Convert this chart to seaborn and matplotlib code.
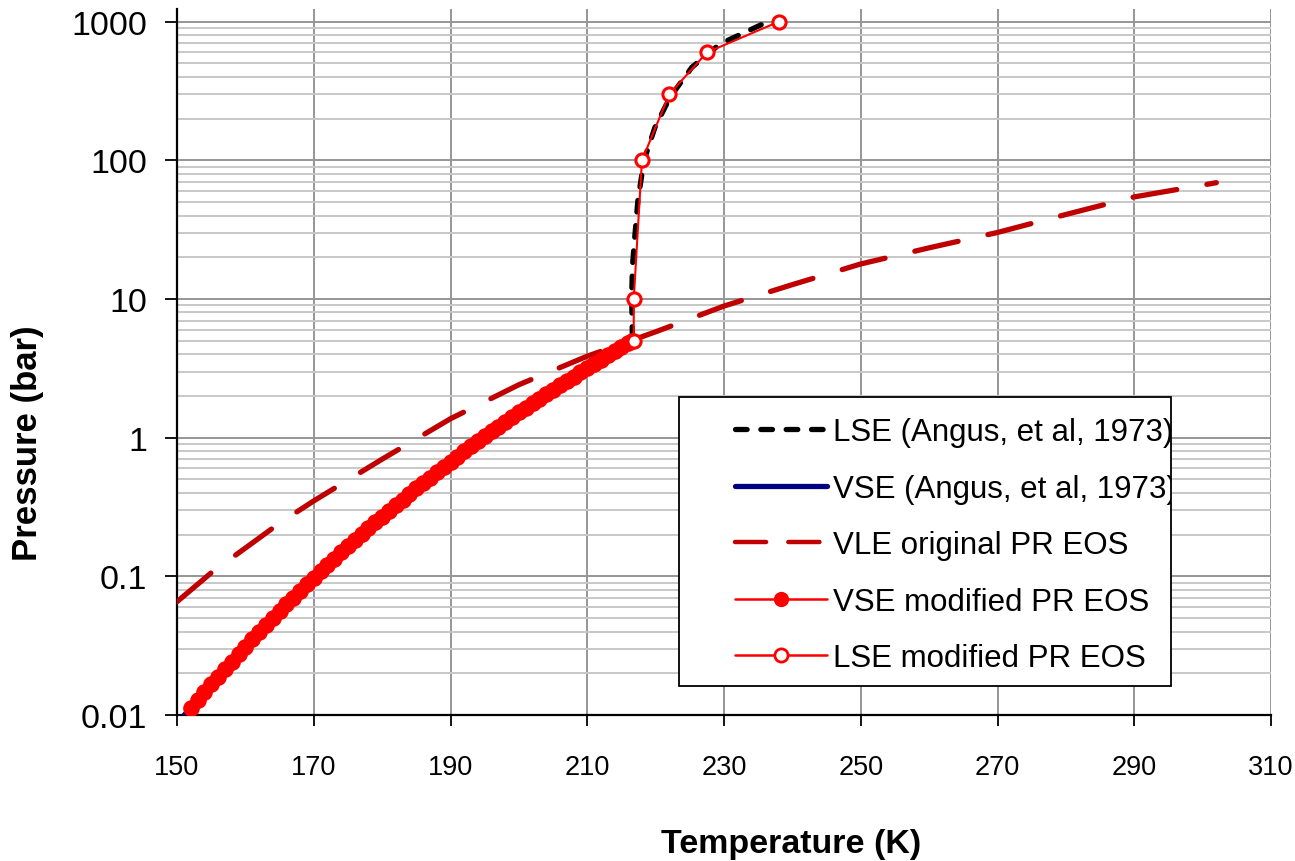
import matplotlib
matplotlib.use("Agg")
import matplotlib.pyplot as plt
import seaborn as sns
import pandas as pd
from matplotlib.lines import Line2D
from matplotlib.patches import Rectangle
from matplotlib.ticker import LogLocator, NullFormatter

# ---------------- data ----------------
lse_angus_T = [216.6, 216.5, 216.6, 217.0, 217.4, 218.3, 219.9, 222.1, 225.3, 229.4, 236.2]
lse_angus_P = [5.2, 10.0, 17.0, 30.0, 51.0, 100.0, 173.0, 285.0, 469.0, 690.0, 990.0]

vse_angus_T = [150.8, 155, 160, 165, 170, 175, 180, 185, 190, 195, 200, 205, 210, 216.6]
vse_angus_P = [0.0098, 0.0166, 0.0311, 0.0561, 0.0977, 0.165, 0.270, 0.431, 0.670,
               1.02, 1.52, 2.22, 3.19, 5.0]

vle_pr_T = [150, 155, 160, 165, 170, 180, 190, 200, 210, 220, 230, 240, 250, 260, 270,
            280, 290, 302]
vle_pr_P = [0.0656, 0.106, 0.160, 0.242, 0.350, 0.70, 1.37, 2.41, 3.87, 5.8, 8.9, 12.7,
            17.9, 23.4, 30.2, 40.7, 54.5, 69.0]

vse_mod_T = [152, 153, 154, 155, 156, 157, 158, 159, 160, 161, 162, 163, 164, 165,
             166, 167, 168, 169, 170, 171, 172, 173, 174, 175, 176, 177, 178, 179,
             180, 181, 182, 183, 184, 185, 186, 187, 188, 189, 190, 191, 192, 193,
             194, 195, 196, 197, 198, 199, 200, 201, 202, 203, 204, 205, 206, 207,
             208, 209, 210, 211, 212, 213, 214, 215, 216, 216.6]
vse_mod_P = [0.0112, 0.0128, 0.0146, 0.0166, 0.0189, 0.0215, 0.0243, 0.0276, 0.0311,
             0.0351, 0.0396, 0.0445, 0.0500, 0.0561, 0.0629, 0.0703, 0.0786, 0.0877,
             0.0977, 0.109, 0.121, 0.134, 0.149, 0.165, 0.182, 0.201, 0.222, 0.245,
             0.270, 0.297, 0.326, 0.358, 0.393, 0.431, 0.471, 0.515, 0.563, 0.614,
             0.670, 0.730, 0.795, 0.864, 0.939, 1.02, 1.11, 1.20, 1.30, 1.41, 1.52,
             1.64, 1.77, 1.91, 2.06, 2.22, 2.39, 2.57, 2.76, 2.97, 3.19, 3.42, 3.66,
             3.93, 4.20, 4.49, 4.81, 5.0]

lse_mod_T = [216.8, 216.8, 218.0, 222.0, 227.5, 238.0]
lse_mod_P = [5.0, 10.0, 100.0, 300.0, 600.0, 1000.0]

legend_labels = ["LSE (Angus, et al, 1973)", "VSE (Angus, et al, 1973)",
                 "VLE original PR EOS", "VSE modified PR EOS", "LSE modified PR EOS"]

x_ticks = [150, 170, 190, 210, 230, 250, 270, 290, 310]
y_ticks = [0.01, 0.1, 1, 10, 100, 1000]
y_tick_labels = ["0.01", "0.1", "1", "10", "100", "1000"]
x_label = "Temperature (K)"
y_label = "Pressure (bar)"

# ---------------- styling ----------------
sns.set_theme(style="white")
plt.rcParams["font.family"] = ["Liberation Sans", "DejaVu Sans"]
for k in ["text.color", "axes.labelcolor", "xtick.color", "ytick.color"]:
    plt.rcParams[k] = "black"

W, H = 1295, 862
fig = plt.figure(figsize=(W / 100, H / 100), dpi=100)
L, R, B, T = 177, 1271, 716, 10
ax = fig.add_axes([L / W, (H - B) / H, (R - L) / W, (B - T) / H])

def ax_xy(px, py):
    return ((px - L) / (R - L), (B - py) / (B - T))

BLACK = "#000000"
NAVY = "#000080"
DARKRED = "#C00000"
RED = "#FF0000"

# series drawn in Excel order (later on top)
df1 = pd.DataFrame({"T": lse_angus_T, "P": lse_angus_P})
sns.lineplot(data=df1, x="T", y="P", ax=ax, estimator=None, sort=False,
             color=BLACK, lw=3.8, zorder=3)
l1 = ax.lines[-1]
l1.set_dashes((2.2, 2.6)); l1.set_dash_capstyle("round")

df2 = pd.DataFrame({"T": vse_angus_T, "P": vse_angus_P})
sns.lineplot(data=df2, x="T", y="P", ax=ax, estimator=None, sort=False,
             color=NAVY, lw=3.0, zorder=3)

df3 = pd.DataFrame({"T": vle_pr_T, "P": vle_pr_P})
sns.lineplot(data=df3, x="T", y="P", ax=ax, estimator=None, sort=False,
             color=DARKRED, lw=3.8, zorder=3)
l3 = ax.lines[-1]
l3.set_dashes((8.4, 5.8)); l3.set_dash_capstyle("round")

df4 = pd.DataFrame({"T": vse_mod_T, "P": vse_mod_P})
sns.lineplot(data=df4, x="T", y="P", ax=ax, estimator=None, sort=False,
             color=RED, lw=1.5, marker="o", markersize=12, markeredgewidth=0,
             markerfacecolor=RED, zorder=4)

df5 = pd.DataFrame({"T": lse_mod_T, "P": lse_mod_P})
sns.lineplot(data=df5, x="T", y="P", ax=ax, estimator=None, sort=False,
             color=RED, lw=1.5, marker="o", markersize=9.5, markeredgewidth=2.2,
             markerfacecolor="white", markeredgecolor=RED, zorder=5)

ax.set_yscale("log")
ax.set_xlim(150, 310)
ax.set_ylim(0.01, 1235)

ax.set_xticks(x_ticks)
ax.set_yticks(y_ticks)
ax.set_yticklabels(y_tick_labels)
ax.yaxis.set_minor_locator(LogLocator(base=10, subs=[2, 3, 4, 5, 6, 7, 8, 9], numticks=20))
ax.yaxis.set_minor_formatter(NullFormatter())

ax.grid(True, which="major", axis="both", color="#969696", lw=1.4)
ax.grid(True, which="minor", axis="y", color="#C8C8C8", lw=1.4)
ax.set_axisbelow(True)

for s in ["top", "right"]:
    ax.spines[s].set_visible(False)
for s in ["left", "bottom"]:
    ax.spines[s].set_color("black")
    ax.spines[s].set_linewidth(1.6)

ax.tick_params(axis="y", which="major", direction="out", length=8.5, width=1.3,
               color="black", left=True, pad=13, labelsize=24.5)
ax.tick_params(axis="y", which="minor", length=0)
ax.tick_params(axis="x", which="major", direction="out", length=8, width=1.3,
               color="black", bottom=True, pad=20, labelsize=19.5)
for lab in ax.get_xticklabels():
    lab.set_family(["Liberation Sans Narrow", "Liberation Sans", "DejaVu Sans"])

ax.set_xlabel(x_label, fontsize=24.5, fontweight="bold")
ax.set_ylabel(y_label, fontsize=25, fontweight="bold")
ax.xaxis.set_label_coords(*ax_xy(791, 845))
ax.xaxis.label.set_va("center")
ax.yaxis.set_label_coords(*ax_xy(28, 443))
ax.yaxis.label.set_va("center")

# legend frame (fixed box as in the reference)
x0, y0 = ax_xy(679, 687)
x1, y1 = ax_xy(1171, 398)
box = Rectangle((x0, y0), x1 - x0, y1 - y0, transform=ax.transAxes,
                facecolor="white", edgecolor="black", lw=1.3, zorder=8)
ax.add_patch(box)

h1 = Line2D([], [], color=BLACK, lw=3.8, dashes=(2.2, 2.6), dash_capstyle="round")
h2 = Line2D([], [], color=NAVY, lw=3.8)
h3 = Line2D([], [], color=DARKRED, lw=3.2, dashes=(7.0, 5.0), dash_capstyle="round")
h4 = Line2D([], [], color=RED, lw=1.8, marker="o", markersize=11,
            markerfacecolor=RED, markeredgewidth=0)
h5 = Line2D([], [], color=RED, lw=1.8, marker="o", markersize=9.5,
            markerfacecolor="white", markeredgecolor=RED, markeredgewidth=2.0)
leg = ax.legend([h1, h2, h3, h4, h5], legend_labels, loc="upper left",
                bbox_to_anchor=ax_xy(735, 418), frameon=False, borderpad=0,
                borderaxespad=0, handlelength=2.95, handletextpad=0.2,
                labelspacing=0.85, prop={"size": 22.5, "family": ["Liberation Sans"]})
leg.set_zorder(9)
for t in leg.get_texts():
    t.set_clip_path(box)

fig.savefig("out.png", dpi=100)
